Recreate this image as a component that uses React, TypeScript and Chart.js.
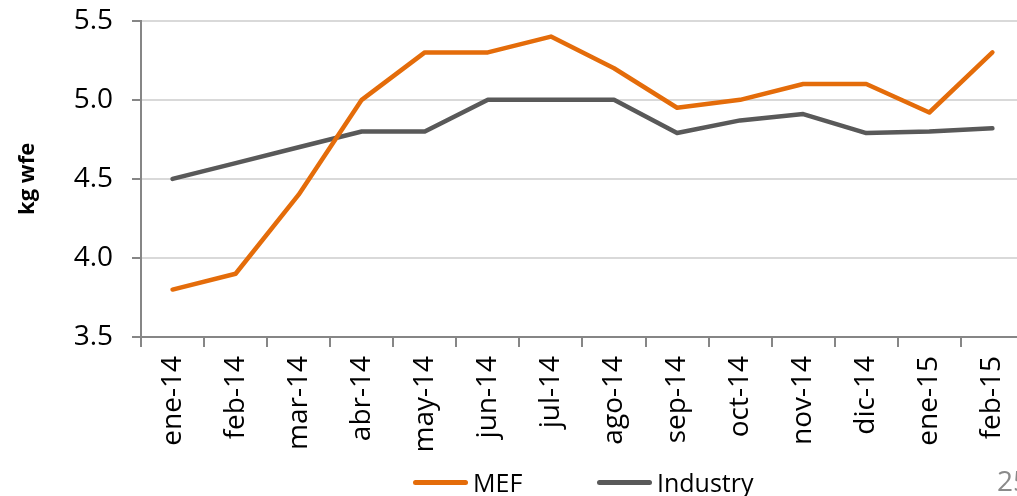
import React, { useEffect, useRef } from "react";
import { Chart, registerables } from "chart.js";

Chart.register(...registerables);

const categories = ["ene-14", "feb-14", "mar-14", "abr-14", "may-14", "jun-14", "jul-14", "ago-14", "sep-14", "oct-14", "nov-14", "dic-14", "ene-15", "feb-15"];
const mefValues = [3.8, 3.9, 4.4, 5.0, 5.3, 5.3, 5.4, 5.2, 4.95, 5.0, 5.1, 5.1, 4.92, 5.3];
const industryValues = [4.5, 4.6, 4.7, 4.8, 4.8, 5.0, 5.0, 5.0, 4.79, 4.87, 4.91, 4.79, 4.8, 4.82];
const yTicks = [3.5, 4.0, 4.5, 5.0, 5.5];
const seriesNames = ["MEF", "Industry"];
const seriesColors = ["#E46C0A", "#595959"];
const yAxisTitle = "kg wfe";
const pageNumber = "25";

const FONT = "'Open Sans', 'DejaVu Sans', sans-serif";
const AXIS_GRAY = "#868686";
const GRID_GRAY = "#D9D9D9";

// layout (positions only)
const CANVAS_W = 1035;
const CANVAS_H = 511;
const CANVAS_TOP = -15;
const legendBoxLeft = [413, 597];
const legendBoxWidth = 55;
const legendTextLeft = [473, 657];

export default function App() {
  const ref = useRef<HTMLCanvasElement | null>(null);

  useEffect(() => {
    if (!ref.current) return;
    Chart.defaults.font.family = FONT;
    const chart = new Chart(ref.current, {
      type: "line",
      data: {
        labels: categories,
        datasets: [
          {
            label: seriesNames[0],
            data: mefValues,
            borderColor: seriesColors[0],
            backgroundColor: seriesColors[0],
            borderWidth: 4.5,
            pointRadius: 0,
            borderCapStyle: "round",
            borderJoinStyle: "round",
            tension: 0,
          },
          {
            label: seriesNames[1],
            data: industryValues,
            borderColor: seriesColors[1],
            backgroundColor: seriesColors[1],
            borderWidth: 4.5,
            pointRadius: 0,
            borderCapStyle: "round",
            borderJoinStyle: "round",
            tension: 0,
          },
        ],
      },
      options: {
        responsive: false,
        animation: false,
        layout: { padding: { top: 0, left: 0, right: 0, bottom: 0 } },
        plugins: {
          tooltip: { enabled: false },
          title: { display: false },
          legend: { display: false },
        },
        scales: {
          x: {
            type: "category",
            offset: true,
            grid: {
              display: true,
              offset: true,
              drawOnChartArea: false,
              drawTicks: true,
              tickLength: 10,
              tickColor: AXIS_GRAY,
              tickWidth: 2,
              color: AXIS_GRAY,
              lineWidth: 2,
            },
            border: { display: true, color: AXIS_GRAY, width: 2 },
            ticks: {
              color: "#000",
              font: { family: FONT, size: 28 },
              minRotation: 90,
              maxRotation: 90,
              autoSkip: false,
              padding: 9,
            },
            afterFit: (s: any) => {
              s.height = 159;
            },
          },
          y: {
            type: "linear",
            position: "left",
            min: yTicks[0],
            max: yTicks[yTicks.length - 1],
            grid: {
              color: GRID_GRAY,
              lineWidth: 2,
              drawTicks: true,
              tickLength: 9,
              tickColor: AXIS_GRAY,
              tickWidth: 2,
            },
            border: { display: true, color: AXIS_GRAY, width: 2 },
            ticks: {
              stepSize: yTicks[1] - yTicks[0],
              color: "#000",
              font: { family: FONT, size: 28 },
              padding: 19,
              callback: (v: any) => Number(v).toFixed(1),
            },
            title: {
              display: true,
              text: yAxisTitle,
              color: "#000",
              font: { family: FONT, size: 22, weight: "bold" },
              padding: { top: 15, bottom: 0 },
            },
            afterFit: (s: any) => {
              s.width = 141;
            },
          },
        },
      } as any,
    });
    return () => chart.destroy();
  }, []);

  return (
    <div
      style={{
        position: "fixed",
        left: 0,
        top: 0,
        width: 1017,
        height: 496,
        overflow: "hidden",
        background: "#fff",
      }}
    >
      <canvas
        ref={ref}
        width={CANVAS_W}
        height={CANVAS_H}
        style={{ position: "absolute", left: 0, top: CANVAS_TOP, display: "block", width: CANVAS_W, height: CANVAS_H }}
      />
      {seriesNames.map((name, i) => (
        <React.Fragment key={name}>
          <div
            style={{
              position: "absolute",
              left: legendBoxLeft[i],
              top: 480,
              width: legendBoxWidth,
              height: 5,
              borderRadius: 2.5,
              background: seriesColors[i],
            }}
          />
          <div
            style={{
              position: "absolute",
              left: legendTextLeft[i],
              top: 470,
              fontFamily: FONT,
              fontSize: 25,
              lineHeight: "25px",
              color: "#000",
              whiteSpace: "nowrap",
            }}
          >
            {name}
          </div>
        </React.Fragment>
      ))}
      <div
        style={{
          position: "absolute",
          left: 997,
          top: 466,
          fontFamily: FONT,
          fontSize: 28,
          lineHeight: "28px",
          color: "#8A8A8A",
          whiteSpace: "nowrap",
        }}
      >
        {pageNumber}
      </div>
    </div>
  );
}
